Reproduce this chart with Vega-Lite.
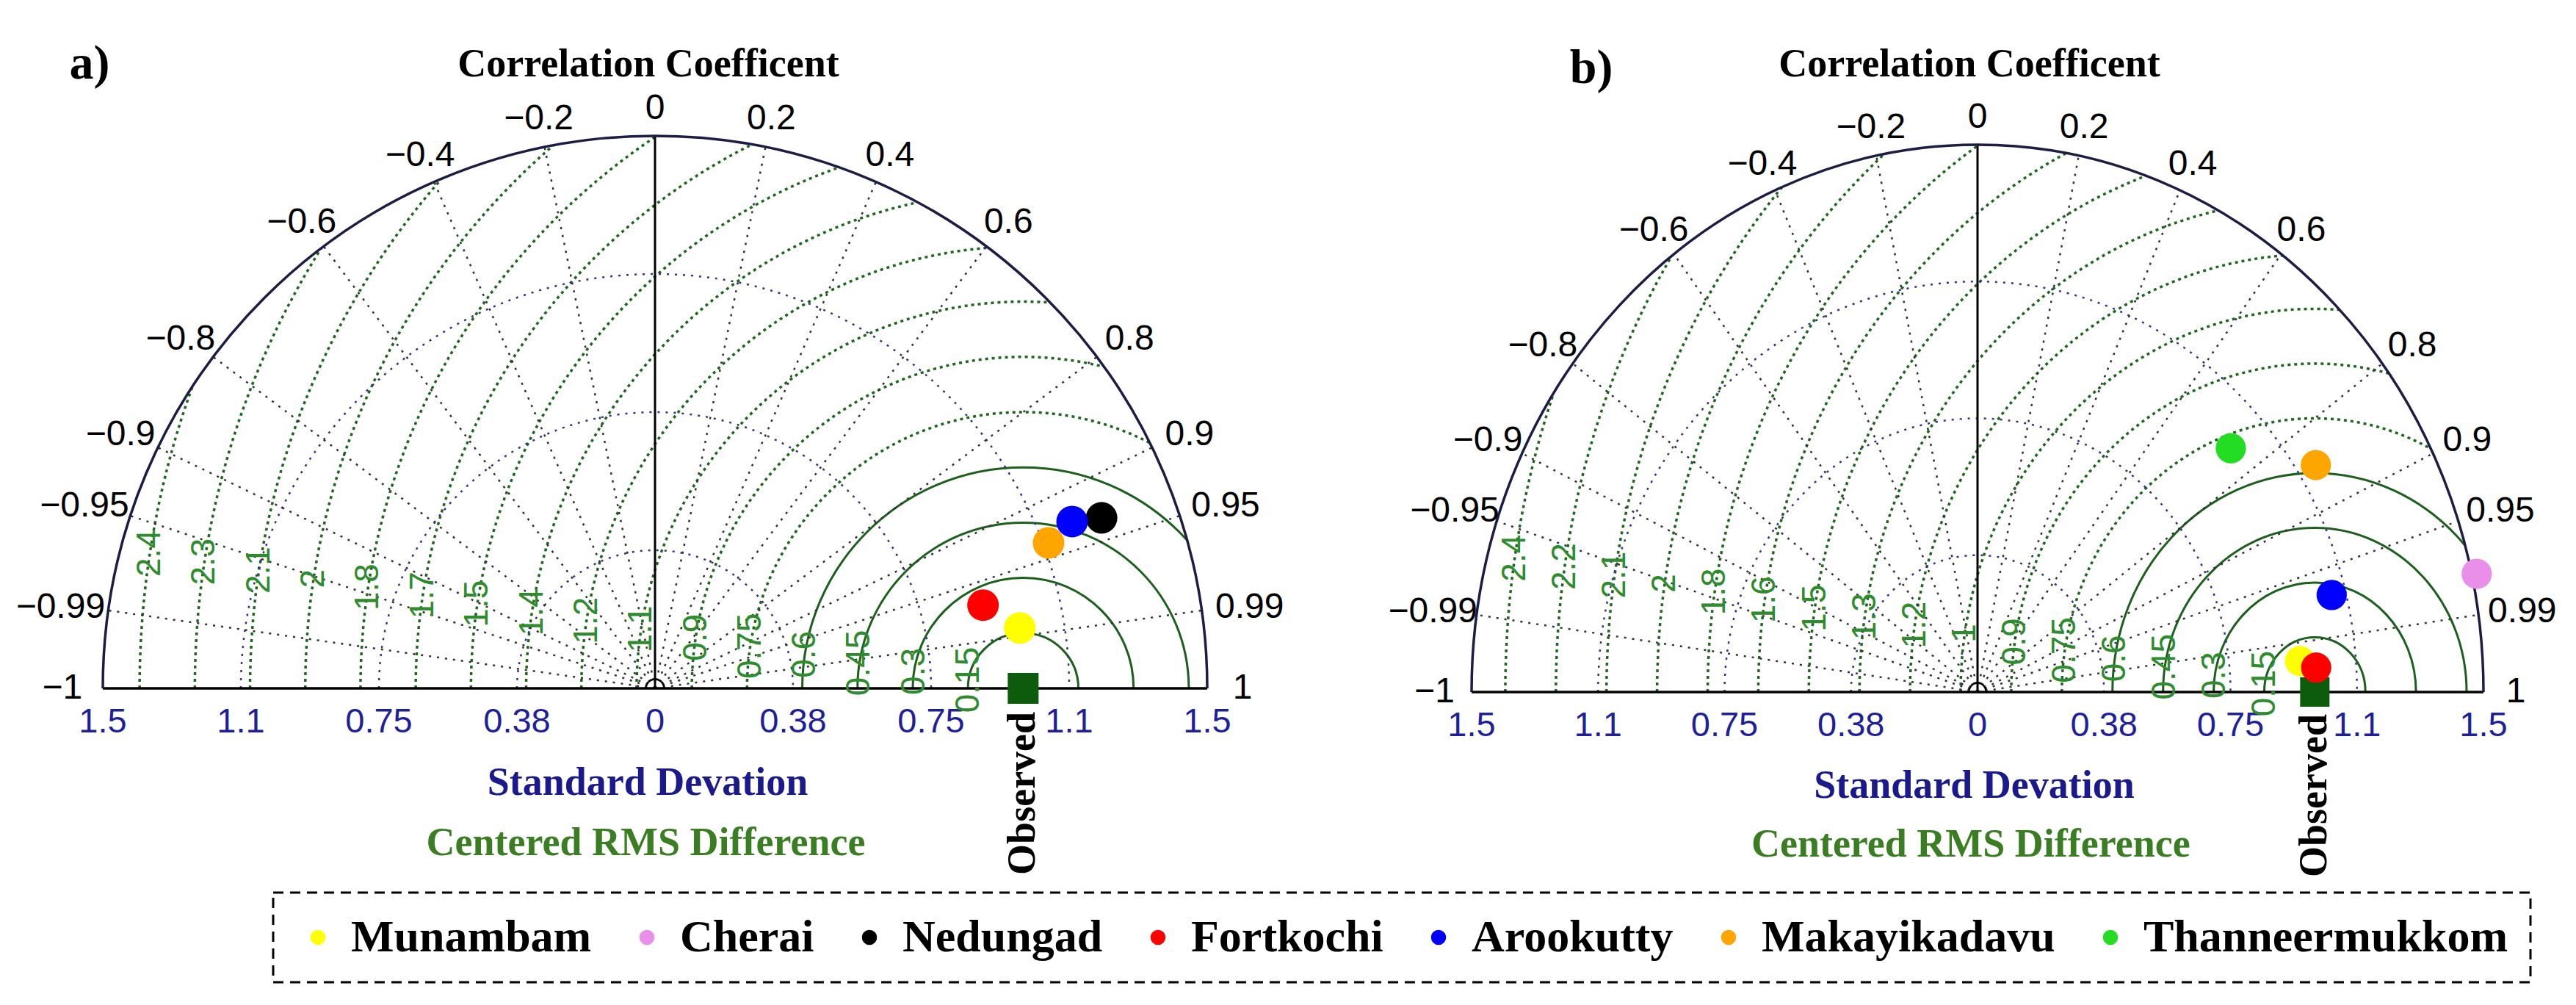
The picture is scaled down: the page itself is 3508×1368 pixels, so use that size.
{
  "$schema": "https://vega.github.io/schema/vega-lite/v6.json",
  "padding": {"left": 21, "top": 53, "right": 5, "bottom": 5},
  "autosize": {"type": "pad"},
  "bounds": "flush",
  "spacing": 360,
  "background": "white",
  "datasets": {
    "rmsSolid": [{"d": 0.15, "cx": 1, "cy": 0}, {"d": 0.3, "cx": 1, "cy": 0}, {"d": 0.45, "cx": 1, "cy": 0}, {"d": 0.6, "cx": 1, "cy": 0}],
    "rmsDot": [{"d": 0.75, "cx": 1, "cy": 0}, {"d": 0.9, "cx": 1, "cy": 0}, {"d": 1.05, "cx": 1, "cy": 0}, {"d": 1.2, "cx": 1, "cy": 0}, {"d": 1.35, "cx": 1, "cy": 0}, {"d": 1.5, "cx": 1, "cy": 0}, {"d": 1.65, "cx": 1, "cy": 0}, {"d": 1.8, "cx": 1, "cy": 0}, {"d": 1.95, "cx": 1, "cy": 0}, {"d": 2.1, "cx": 1, "cy": 0}, {"d": 2.25, "cx": 1, "cy": 0}, {"d": 2.4, "cx": 1, "cy": 0}],
    "std": [{"s": 0.375, "cx": 0, "cy": 0}, {"s": 0.75, "cx": 0, "cy": 0}, {"s": 1.125, "cx": 0, "cy": 0}],
    "outer": [{"s": 1.5, "cx": 0, "cy": 0}],
    "tiny": [{"s": 0.025, "cx": 0, "cy": 0}],
    "obs": [{"cx": 1, "cy": 0}],
    "base": [{"ox": -1.5, "oy": 0, "ex": 1.5, "ey": 0}],
    "sdTicks": [
      {"v": -1.5, "b": 0, "label": "1.5"}, {"v": -1.125, "b": 0, "label": "1.1"}, {"v": -0.75, "b": 0, "label": "0.75"},
      {"v": -0.375, "b": 0, "label": "0.38"}, {"v": 0, "b": 0, "label": "0"}, {"v": 0.375, "b": 0, "label": "0.38"},
      {"v": 0.75, "b": 0, "label": "0.75"}, {"v": 1.125, "b": 0, "label": "1.1"}, {"v": 1.5, "b": 0, "label": "1.5"}
    ],
    "corr": [
      {"r": -0.99, "ox": 0, "oy": 0, "ex": -1.485, "ey": 0.2116}, {"r": -0.95, "ox": 0, "oy": 0, "ex": -1.425, "ey": 0.4684}, {"r": -0.9, "ox": 0, "oy": 0, "ex": -1.35, "ey": 0.6538},
      {"r": -0.8, "ox": 0, "oy": 0, "ex": -1.2, "ey": 0.9}, {"r": -0.6, "ox": 0, "oy": 0, "ex": -0.9, "ey": 1.2}, {"r": -0.4, "ox": 0, "oy": 0, "ex": -0.6, "ey": 1.3748},
      {"r": -0.2, "ox": 0, "oy": 0, "ex": -0.3, "ey": 1.4697}, {"r": 0.2, "ox": 0, "oy": 0, "ex": 0.3, "ey": 1.4697}, {"r": 0.4, "ox": 0, "oy": 0, "ex": 0.6, "ey": 1.3748},
      {"r": 0.6, "ox": 0, "oy": 0, "ex": 0.9, "ey": 1.2}, {"r": 0.8, "ox": 0, "oy": 0, "ex": 1.2, "ey": 0.9}, {"r": 0.9, "ox": 0, "oy": 0, "ex": 1.35, "ey": 0.6538},
      {"r": 0.95, "ox": 0, "oy": 0, "ex": 1.425, "ey": 0.4684}, {"r": 0.99, "ox": 0, "oy": 0, "ex": 1.485, "ey": 0.2116}
    ],
    "corr0": [{"r": 0, "ox": 0, "oy": 0, "ex": 0, "ey": 1.5}],
    "corrLab": [
      {"label": "0", "lx": 0, "ly": 1.574},
      {"label": "0.2", "lx": 0.316, "ly": 1.546}, {"label": "−0.2", "lx": -0.316, "ly": 1.546},
      {"label": "0.4", "lx": 0.638, "ly": 1.446}, {"label": "−0.4", "lx": -0.638, "ly": 1.446},
      {"label": "0.6", "lx": 0.96, "ly": 1.265}, {"label": "−0.6", "lx": -0.96, "ly": 1.265},
      {"label": "0.8", "lx": 1.289, "ly": 0.948}, {"label": "−0.8", "lx": -1.289, "ly": 0.948},
      {"label": "0.9", "lx": 1.452, "ly": 0.689}, {"label": "−0.9", "lx": -1.452, "ly": 0.689},
      {"label": "0.95", "lx": 1.55, "ly": 0.495}, {"label": "−0.95", "lx": -1.55, "ly": 0.495},
      {"label": "0.99", "lx": 1.615, "ly": 0.22}, {"label": "−0.99", "lx": -1.615, "ly": 0.22},
      {"label": "1", "lx": 1.596, "ly": 0}, {"label": "−1", "lx": -1.61, "ly": 0}
    ],
    "rmsLabA": [
      {"label": "0.15", "lx": 0.852, "ly": 0.023}, {"label": "0.3", "lx": 0.704, "ly": 0.046},
      {"label": "0.45", "lx": 0.555, "ly": 0.069}, {"label": "0.6", "lx": 0.407, "ly": 0.092},
      {"label": "0.75", "lx": 0.259, "ly": 0.115}, {"label": "0.9", "lx": 0.111, "ly": 0.138},
      {"label": "1.1", "lx": -0.038, "ly": 0.161}, {"label": "1.2", "lx": -0.186, "ly": 0.184},
      {"label": "1.4", "lx": -0.334, "ly": 0.207}, {"label": "1.5", "lx": -0.482, "ly": 0.23},
      {"label": "1.7", "lx": -0.631, "ly": 0.253}, {"label": "1.8", "lx": -0.779, "ly": 0.275},
      {"label": "2", "lx": -0.927, "ly": 0.298}, {"label": "2.1", "lx": -1.075, "ly": 0.321},
      {"label": "2.3", "lx": -1.224, "ly": 0.344}, {"label": "2.4", "lx": -1.372, "ly": 0.367}
    ],
    "rmsLabB": [
      {"label": "0.15", "lx": 0.852, "ly": 0.023}, {"label": "0.3", "lx": 0.704, "ly": 0.046},
      {"label": "0.45", "lx": 0.555, "ly": 0.069}, {"label": "0.6", "lx": 0.407, "ly": 0.092},
      {"label": "0.75", "lx": 0.259, "ly": 0.115}, {"label": "0.9", "lx": 0.111, "ly": 0.138},
      {"label": "1", "lx": -0.038, "ly": 0.161}, {"label": "1.2", "lx": -0.186, "ly": 0.184},
      {"label": "1.3", "lx": -0.334, "ly": 0.207}, {"label": "1.5", "lx": -0.482, "ly": 0.23},
      {"label": "1.6", "lx": -0.631, "ly": 0.253}, {"label": "1.8", "lx": -0.779, "ly": 0.275},
      {"label": "2", "lx": -0.927, "ly": 0.298}, {"label": "2.1", "lx": -1.075, "ly": 0.321},
      {"label": "2.2", "lx": -1.224, "ly": 0.344}, {"label": "2.4", "lx": -1.372, "ly": 0.367}
    ],
    "stA": [
      {"station": "Munambam", "x": 0.991, "y": 0.164},
      {"station": "Nedungad", "x": 1.213, "y": 0.463},
      {"station": "Fortkochi", "x": 0.891, "y": 0.226},
      {"station": "Arookutty", "x": 1.133, "y": 0.453},
      {"station": "Makayikadavu", "x": 1.069, "y": 0.395}
    ],
    "stB": [
      {"station": "Munambam", "x": 0.956, "y": 0.085},
      {"station": "Cherai", "x": 1.48, "y": 0.324},
      {"station": "Fortkochi", "x": 1.004, "y": 0.067},
      {"station": "Arookutty", "x": 1.05, "y": 0.266},
      {"station": "Makayikadavu", "x": 1.003, "y": 0.622},
      {"station": "Thanneermukkom", "x": 0.751, "y": 0.668}
    ]
  },
  "hconcat": [
    {
      "width": 1504,
      "height": 752,
      "layer": [
        {
          "data": {"name": "rmsDot"},
          "mark": {"type": "point", "shape": "M -1 0 A 1 1 0 0 1 1 0", "filled": false, "stroke": "#1f661f", "strokeWidth": 3.5, "strokeDash": [4, 5], "opacity": 1, "clip": true},
          "encoding": {
            "x": {"field": "cx", "type": "quantitative", "scale": {"domain": [-1.5, 1.5], "nice": false, "zero": false}, "axis": null},
            "y": {"field": "cy", "type": "quantitative", "scale": {"domain": [0, 1.5], "nice": false, "zero": false}, "axis": null},
            "size": {"field": "d", "type": "quantitative", "scale": {"type": "pow", "exponent": 2, "domain": [0, 1.5], "range": [0, 2262016], "nice": false}, "legend": null}
          }
        },
        {
          "data": {"name": "rmsSolid"},
          "mark": {"type": "point", "shape": "M -1 0 A 1 1 0 0 1 1 0", "filled": false, "stroke": "#1d5f1d", "strokeWidth": 3, "opacity": 1, "clip": true},
          "encoding": {
            "x": {"field": "cx", "type": "quantitative", "axis": null},
            "y": {"field": "cy", "type": "quantitative", "axis": null},
            "size": {"field": "d", "type": "quantitative", "legend": null}
          }
        },
        {
          "data": {"name": "outer"},
          "mark": {"type": "point", "shape": "M -1 0 A 1 1 0 0 1 1 0 L 1 -1.3 L -1 -1.3 Z", "filled": true, "fill": "white", "strokeWidth": 0, "opacity": 1, "clip": true},
          "encoding": {
            "x": {"field": "cx", "type": "quantitative", "axis": null},
            "y": {"field": "cy", "type": "quantitative", "axis": null},
            "size": {"field": "s", "type": "quantitative", "legend": null}
          }
        },
        {
          "data": {"name": "std"},
          "mark": {"type": "point", "shape": "M -1 0 A 1 1 0 0 1 1 0", "filled": false, "stroke": "#333388", "strokeWidth": 2.5, "strokeDash": [3, 8], "opacity": 1},
          "encoding": {
            "x": {"field": "cx", "type": "quantitative", "axis": null},
            "y": {"field": "cy", "type": "quantitative", "axis": null},
            "size": {"field": "s", "type": "quantitative", "legend": null}
          }
        },
        {
          "data": {"name": "corr"},
          "mark": {"type": "rule", "stroke": "#333333", "strokeWidth": 2.5, "strokeDash": [3, 8]},
          "encoding": {
            "x": {"field": "ox", "type": "quantitative", "axis": null},
            "y": {"field": "oy", "type": "quantitative", "axis": null},
            "x2": {"field": "ex"},
            "y2": {"field": "ey"}
          }
        },
        {
          "data": {"name": "corr0"},
          "mark": {"type": "rule", "stroke": "black", "strokeWidth": 3},
          "encoding": {
            "x": {"field": "ox", "type": "quantitative", "axis": null},
            "y": {"field": "oy", "type": "quantitative", "axis": null},
            "x2": {"field": "ex"},
            "y2": {"field": "ey"}
          }
        },
        {
          "data": {"name": "base"},
          "mark": {"type": "rule", "stroke": "black", "strokeWidth": 3.5},
          "encoding": {
            "x": {"field": "ox", "type": "quantitative", "axis": null},
            "y": {"field": "oy", "type": "quantitative", "axis": null},
            "x2": {"field": "ex"},
            "y2": {"field": "ey"}
          }
        },
        {
          "data": {"name": "outer"},
          "mark": {"type": "point", "shape": "M -1 0 A 1 1 0 0 1 1 0", "filled": false, "stroke": "#1c1c44", "strokeWidth": 3.5, "opacity": 1},
          "encoding": {
            "x": {"field": "cx", "type": "quantitative", "axis": null},
            "y": {"field": "cy", "type": "quantitative", "axis": null},
            "size": {"field": "s", "type": "quantitative", "legend": null}
          }
        },
        {
          "data": {"name": "tiny"},
          "mark": {"type": "point", "shape": "M -1 0 A 1 1 0 0 1 1 0", "filled": false, "stroke": "black", "strokeWidth": 2, "opacity": 1},
          "encoding": {
            "x": {"field": "cx", "type": "quantitative", "axis": null},
            "y": {"field": "cy", "type": "quantitative", "axis": null},
            "size": {"field": "s", "type": "quantitative", "legend": null}
          }
        },
        {
          "data": {"name": "sdTicks"},
          "mark": {"type": "text", "font": "Liberation Sans", "fontSize": 47, "fill": "#1f1f99", "align": "center", "baseline": "middle", "dy": 46},
          "encoding": {
            "x": {"field": "v", "type": "quantitative", "axis": null},
            "y": {"field": "b", "type": "quantitative", "axis": null},
            "text": {"field": "label"}
          }
        },
        {
          "data": {"name": "corrLab"},
          "mark": {"type": "text", "font": "Liberation Sans", "fontSize": 48, "fill": "black", "align": "center", "baseline": "middle"},
          "encoding": {
            "x": {"field": "lx", "type": "quantitative", "axis": null},
            "y": {"field": "ly", "type": "quantitative", "axis": null},
            "text": {"field": "label"}
          }
        },
        {
          "data": {"name": "rmsLabA"},
          "mark": {"type": "text", "font": "Liberation Sans", "fontSize": 46, "fill": "#2e8b2e", "align": "center", "baseline": "middle", "angle": 270},
          "encoding": {
            "x": {"field": "lx", "type": "quantitative", "axis": null},
            "y": {"field": "ly", "type": "quantitative", "axis": null},
            "text": {"field": "label"}
          }
        },
        {
          "data": {"name": "obs"},
          "mark": {"type": "point", "shape": "square", "filled": true, "fill": "#0d5c0d", "size": 1764, "opacity": 1, "strokeWidth": 0},
          "encoding": {
            "x": {"field": "cx", "type": "quantitative", "axis": null},
            "y": {"field": "cy", "type": "quantitative", "axis": null}
          }
        },
        {
          "data": {"name": "stA"},
          "mark": {"type": "circle", "size": 1850, "opacity": 1},
          "encoding": {
            "x": {"field": "x", "type": "quantitative", "axis": null},
            "y": {"field": "y", "type": "quantitative", "axis": null},
            "color": {"field": "station", "type": "nominal",
              "scale": {"domain": ["Munambam", "Cherai", "Nedungad", "Fortkochi", "Arookutty", "Makayikadavu", "Thanneermukkom"], "range": ["#ffff00", "#e98fe9", "#000000", "#ff0000", "#0000ff", "#ffa500", "#22dd22"]},
              "legend": {"orient": "none", "legendX": 232, "legendY": 1030, "direction": "horizontal", "title": null, "symbolType": "circle", "symbolSize": 420, "symbolStrokeWidth": 0, "labelFont": "Liberation Serif", "labelFontSize": 62, "labelFontWeight": "bold", "labelColor": "black", "labelLimit": 0, "labelOffset": 14, "columnPadding": 44, "padding": 30, "strokeColor": "black"}}
          }
        },
        {
          "data": {"values": [{"label": "Correlation Coefficent", "x": -0.018, "y": 1.694}]},
          "mark": {"type": "text", "font": "Liberation Serif", "fontWeight": "bold", "fontSize": 54, "fill": "black", "align": "center", "baseline": "middle"},
          "encoding": {"x": {"field": "x", "type": "quantitative", "axis": null}, "y": {"field": "y", "type": "quantitative", "axis": null}, "text": {"field": "label"}}
        },
        {
          "data": {"values": [{"label": "a)", "x": -1.536, "y": 1.696}]},
          "mark": {"type": "text", "font": "Liberation Serif", "fontWeight": "bold", "fontSize": 66, "fill": "black", "align": "center", "baseline": "middle"},
          "encoding": {"x": {"field": "x", "type": "quantitative", "axis": null}, "y": {"field": "y", "type": "quantitative", "axis": null}, "text": {"field": "label"}}
        },
        {
          "data": {"values": [{"label": "Standard Devation", "x": -0.02, "y": -0.257}]},
          "mark": {"type": "text", "font": "Liberation Serif", "fontWeight": "bold", "fontSize": 54, "fill": "#1a1a8c", "align": "center", "baseline": "middle"},
          "encoding": {"x": {"field": "x", "type": "quantitative", "axis": null}, "y": {"field": "y", "type": "quantitative", "axis": null}, "text": {"field": "label"}}
        },
        {
          "data": {"values": [{"label": "Centered RMS Difference", "x": -0.025, "y": -0.42}]},
          "mark": {"type": "text", "font": "Liberation Serif", "fontWeight": "bold", "fontSize": 54, "fill": "#3b7d23", "align": "center", "baseline": "middle"},
          "encoding": {"x": {"field": "x", "type": "quantitative", "axis": null}, "y": {"field": "y", "type": "quantitative", "axis": null}, "text": {"field": "label"}}
        },
        {
          "data": {"values": [{"label": "Observed", "x": 1, "y": -0.285}]},
          "mark": {"type": "text", "font": "Liberation Serif", "fontWeight": "bold", "fontSize": 54, "fill": "black", "align": "center", "baseline": "middle", "angle": 270},
          "encoding": {"x": {"field": "x", "type": "quantitative", "axis": null}, "y": {"field": "y", "type": "quantitative", "axis": null}, "text": {"field": "label"}}
        }
      ]
    },
    {
      "width": 1378,
      "height": 757,
      "layer": [
        {
          "data": {"name": "rmsDot"},
          "mark": {"type": "point", "shape": "M -1 0 A 1 1.0814 0 0 1 1 0", "filled": false, "stroke": "#1f661f", "strokeWidth": 3.5, "strokeDash": [4, 5], "opacity": 1, "clip": true},
          "encoding": {
            "x": {"field": "cx", "type": "quantitative", "scale": {"domain": [-1.5, 1.5], "nice": false, "zero": false}, "axis": null},
            "y": {"field": "cy", "type": "quantitative", "scale": {"domain": [0, 1.524], "nice": false, "zero": false}, "axis": null},
            "size": {"field": "d", "type": "quantitative", "scale": {"type": "pow", "exponent": 2, "domain": [0, 1.5], "range": [0, 1898884], "nice": false}, "legend": null}
          }
        },
        {
          "data": {"name": "rmsSolid"},
          "mark": {"type": "point", "shape": "M -1 0 A 1 1.0814 0 0 1 1 0", "filled": false, "stroke": "#1d5f1d", "strokeWidth": 3, "opacity": 1, "clip": true},
          "encoding": {
            "x": {"field": "cx", "type": "quantitative", "axis": null},
            "y": {"field": "cy", "type": "quantitative", "axis": null},
            "size": {"field": "d", "type": "quantitative", "legend": null}
          }
        },
        {
          "data": {"name": "outer"},
          "mark": {"type": "point", "shape": "M -1 0 A 1 1.0814 0 0 1 1 0 L 1 -1.4 L -1 -1.4 Z", "filled": true, "fill": "white", "strokeWidth": 0, "opacity": 1, "clip": true},
          "encoding": {
            "x": {"field": "cx", "type": "quantitative", "axis": null},
            "y": {"field": "cy", "type": "quantitative", "axis": null},
            "size": {"field": "s", "type": "quantitative", "legend": null}
          }
        },
        {
          "data": {"name": "std"},
          "mark": {"type": "point", "shape": "M -1 0 A 1 1.0814 0 0 1 1 0", "filled": false, "stroke": "#333388", "strokeWidth": 2.5, "strokeDash": [3, 8], "opacity": 1},
          "encoding": {
            "x": {"field": "cx", "type": "quantitative", "axis": null},
            "y": {"field": "cy", "type": "quantitative", "axis": null},
            "size": {"field": "s", "type": "quantitative", "legend": null}
          }
        },
        {
          "data": {"name": "corr"},
          "mark": {"type": "rule", "stroke": "#333333", "strokeWidth": 2.5, "strokeDash": [3, 8]},
          "encoding": {
            "x": {"field": "ox", "type": "quantitative", "axis": null},
            "y": {"field": "oy", "type": "quantitative", "axis": null},
            "x2": {"field": "ex"},
            "y2": {"field": "ey"}
          }
        },
        {
          "data": {"name": "corr0"},
          "mark": {"type": "rule", "stroke": "black", "strokeWidth": 3},
          "encoding": {
            "x": {"field": "ox", "type": "quantitative", "axis": null},
            "y": {"field": "oy", "type": "quantitative", "axis": null},
            "x2": {"field": "ex"},
            "y2": {"field": "ey"}
          }
        },
        {
          "data": {"name": "base"},
          "mark": {"type": "rule", "stroke": "black", "strokeWidth": 3.5},
          "encoding": {
            "x": {"field": "ox", "type": "quantitative", "axis": null},
            "y": {"field": "oy", "type": "quantitative", "axis": null},
            "x2": {"field": "ex"},
            "y2": {"field": "ey"}
          }
        },
        {
          "data": {"name": "outer"},
          "mark": {"type": "point", "shape": "M -1 0 A 1 1.0814 0 0 1 1 0", "filled": false, "stroke": "#1c1c44", "strokeWidth": 3.5, "opacity": 1},
          "encoding": {
            "x": {"field": "cx", "type": "quantitative", "axis": null},
            "y": {"field": "cy", "type": "quantitative", "axis": null},
            "size": {"field": "s", "type": "quantitative", "legend": null}
          }
        },
        {
          "data": {"name": "tiny"},
          "mark": {"type": "point", "shape": "M -1 0 A 1 1.0814 0 0 1 1 0", "filled": false, "stroke": "black", "strokeWidth": 2, "opacity": 1},
          "encoding": {
            "x": {"field": "cx", "type": "quantitative", "axis": null},
            "y": {"field": "cy", "type": "quantitative", "axis": null},
            "size": {"field": "s", "type": "quantitative", "legend": null}
          }
        },
        {
          "data": {"name": "sdTicks"},
          "mark": {"type": "text", "font": "Liberation Sans", "fontSize": 47, "fill": "#1f1f99", "align": "center", "baseline": "middle", "dy": 46},
          "encoding": {
            "x": {"field": "v", "type": "quantitative", "axis": null},
            "y": {"field": "b", "type": "quantitative", "axis": null},
            "text": {"field": "label"}
          }
        },
        {
          "data": {"name": "corrLab"},
          "mark": {"type": "text", "font": "Liberation Sans", "fontSize": 48, "fill": "black", "align": "center", "baseline": "middle"},
          "encoding": {
            "x": {"field": "lx", "type": "quantitative", "axis": null},
            "y": {"field": "ly", "type": "quantitative", "axis": null},
            "text": {"field": "label"}
          }
        },
        {
          "data": {"name": "rmsLabB"},
          "mark": {"type": "text", "font": "Liberation Sans", "fontSize": 46, "fill": "#2e8b2e", "align": "center", "baseline": "middle", "angle": 270},
          "encoding": {
            "x": {"field": "lx", "type": "quantitative", "axis": null},
            "y": {"field": "ly", "type": "quantitative", "axis": null},
            "text": {"field": "label"}
          }
        },
        {
          "data": {"name": "obs"},
          "mark": {"type": "point", "shape": "square", "filled": true, "fill": "#0d5c0d", "size": 1600, "opacity": 1, "strokeWidth": 0},
          "encoding": {
            "x": {"field": "cx", "type": "quantitative", "axis": null},
            "y": {"field": "cy", "type": "quantitative", "axis": null}
          }
        },
        {
          "data": {"name": "stB"},
          "mark": {"type": "circle", "size": 1700, "opacity": 1},
          "encoding": {
            "x": {"field": "x", "type": "quantitative", "axis": null},
            "y": {"field": "y", "type": "quantitative", "axis": null},
            "color": {"field": "station", "type": "nominal",
              "scale": {"domain": ["Munambam", "Cherai", "Nedungad", "Fortkochi", "Arookutty", "Makayikadavu", "Thanneermukkom"], "range": ["#ffff00", "#e98fe9", "#000000", "#ff0000", "#0000ff", "#ffa500", "#22dd22"]},
              "legend": {"orient": "none", "legendX": 232, "legendY": 1030, "direction": "horizontal", "title": null, "symbolType": "circle", "symbolSize": 420, "symbolStrokeWidth": 0, "labelFont": "Liberation Serif", "labelFontSize": 62, "labelFontWeight": "bold", "labelColor": "black", "labelLimit": 0, "labelOffset": 14, "columnPadding": 44, "padding": 30, "strokeColor": "black"}}
          }
        },
        {
          "data": {"values": [{"label": "Correlation Coefficent", "x": -0.024, "y": 1.719}]},
          "mark": {"type": "text", "font": "Liberation Serif", "fontWeight": "bold", "fontSize": 54, "fill": "black", "align": "center", "baseline": "middle"},
          "encoding": {"x": {"field": "x", "type": "quantitative", "axis": null}, "y": {"field": "y", "type": "quantitative", "axis": null}, "text": {"field": "label"}}
        },
        {
          "data": {"values": [{"label": "b)", "x": -1.145, "y": 1.709}]},
          "mark": {"type": "text", "font": "Liberation Serif", "fontWeight": "bold", "fontSize": 66, "fill": "black", "align": "center", "baseline": "middle"},
          "encoding": {"x": {"field": "x", "type": "quantitative", "axis": null}, "y": {"field": "y", "type": "quantitative", "axis": null}, "text": {"field": "label"}}
        },
        {
          "data": {"values": [{"label": "Standard Devation", "x": -0.01, "y": -0.258}]},
          "mark": {"type": "text", "font": "Liberation Serif", "fontWeight": "bold", "fontSize": 54, "fill": "#1a1a8c", "align": "center", "baseline": "middle"},
          "encoding": {"x": {"field": "x", "type": "quantitative", "axis": null}, "y": {"field": "y", "type": "quantitative", "axis": null}, "text": {"field": "label"}}
        },
        {
          "data": {"values": [{"label": "Centered RMS Difference", "x": -0.02, "y": -0.419}]},
          "mark": {"type": "text", "font": "Liberation Serif", "fontWeight": "bold", "fontSize": 54, "fill": "#3b7d23", "align": "center", "baseline": "middle"},
          "encoding": {"x": {"field": "x", "type": "quantitative", "axis": null}, "y": {"field": "y", "type": "quantitative", "axis": null}, "text": {"field": "label"}}
        },
        {
          "data": {"values": [{"label": "Observed", "x": 1, "y": -0.284}]},
          "mark": {"type": "text", "font": "Liberation Serif", "fontWeight": "bold", "fontSize": 54, "fill": "black", "align": "center", "baseline": "middle", "angle": 270},
          "encoding": {"x": {"field": "x", "type": "quantitative", "axis": null}, "y": {"field": "y", "type": "quantitative", "axis": null}, "text": {"field": "label"}}
        }
      ]
    }
  ],
  "resolve": {"scale": {"size": "independent", "x": "independent", "y": "independent"}},
  "config": {
    "view": {"stroke": null},
    "font": "Liberation Sans",
    "legend": {"strokeDash": [14, 9], "strokeWidth": 3}
  }
}
